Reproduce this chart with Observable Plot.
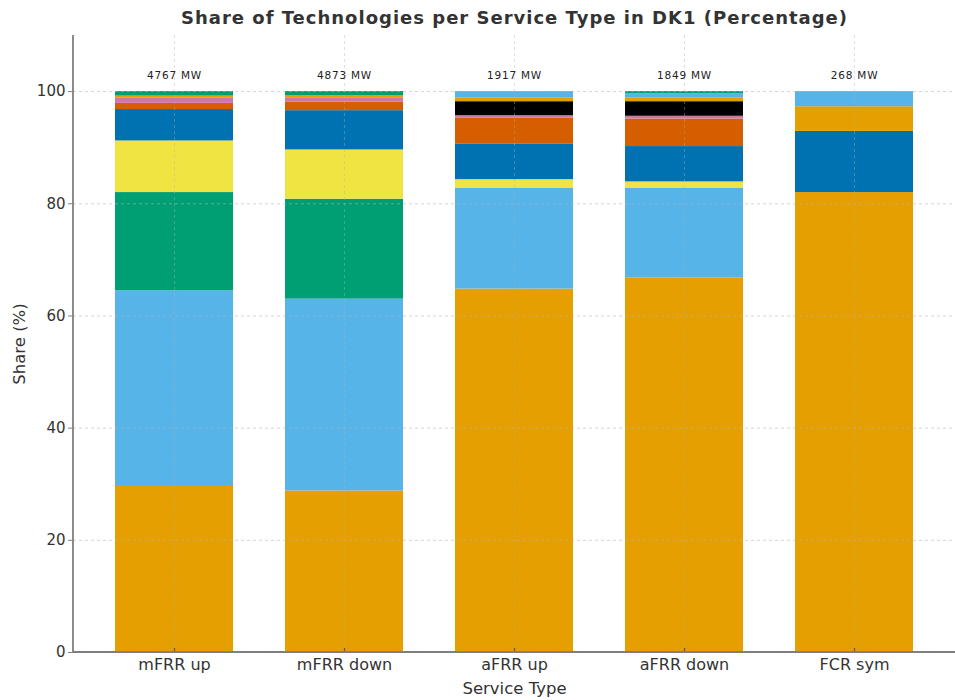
<!DOCTYPE html>
<html>
<head>
<meta charset="utf-8">
<script src="https://cdn.jsdelivr.net/npm/d3@7"></script>
<script src="https://cdn.jsdelivr.net/npm/@observablehq/plot@0.6"></script>
<style>
  body { margin: 0; background: #fff; }
  svg { font-family: "DejaVu Sans", sans-serif; }
  .title text { letter-spacing: 1px; }
  .mw text { letter-spacing: 0.8px; }
</style>
</head>
<body>
<div id="chart"></div>
<script>
// Service types and total capacity labels
const services = ["mFRR up", "mFRR down", "aFRR up", "aFRR down", "FCR sym"];
const totalMW = [4767, 4873, 1917, 1849, 268];

// Technologies (stack order, bottom to top) and their colours
const techs = ["Tech 1", "Tech 2", "Tech 3", "Tech 4", "Tech 5", "Tech 6", "Tech 7", "Tech 8", "Tech 9", "Tech 10", "Tech 11"];
const techColors = ["#E69F00", "#56B4E9", "#009E73", "#F0E442", "#0072B2", "#D55E00", "#CC79A7", "#000000", "#E69F00", "#56B4E9", "#009E73"];

// Share (%) of each technology per service type (same order as services)
const tech1 = [29.6, 28.8, 64.8, 66.8, 82.0];
const tech2 = [34.9, 34.2, 18.0, 16.0, 0];
const tech3 = [17.5, 17.8, 0, 0, 0];
const tech4 = [9.2, 8.8, 1.5, 1.1, 0];
const tech5 = [5.6, 7.0, 6.3, 6.3, 10.9];
const tech6 = [1.1, 1.5, 4.7, 4.9, 0];
const tech7 = [0.9, 0.8, 0.4, 0.5, 0];
const tech8 = [0, 0, 2.5, 2.6, 0];
const tech9 = [0.4, 0.4, 0.7, 0.7, 4.4];
const tech10 = [0, 0, 1.1, 0.7, 2.7];
const tech11 = [0.8, 0.7, 0, 0.4, 0];

const yTicks = [0, 20, 40, 60, 80, 100];

const shares = [tech1, tech2, tech3, tech4, tech5, tech6, tech7, tech8, tech9, tech10, tech11];
const rows = [];
techs.forEach((t, ti) => {
  services.forEach((s, si) => {
    if (shares[ti][si] > 0) rows.push({service: s, tech: t, order: ti, share: shares[ti][si]});
  });
});
const labels = services.map((s, i) => ({service: s, label: `${totalMW[i]} MW`}));

const W = 955, H = 700, mL = 73, mR = 0, mT = 35, mB = 48;

const spines = (index, scales, values, dims) => {
  const g = d3.create("svg:g").attr("stroke", "#7f7f7f").attr("stroke-width", 1.8);
  g.append("line").attr("x1", dims.marginLeft).attr("x2", dims.marginLeft)
    .attr("y1", dims.marginTop).attr("y2", dims.height - dims.marginBottom);
  g.append("line").attr("x1", dims.marginLeft).attr("x2", dims.width - dims.marginRight)
    .attr("y1", dims.height - dims.marginBottom).attr("y2", dims.height - dims.marginBottom);
  return g.node();
};

const chart = Plot.plot({
  width: W, height: H,
  marginLeft: mL, marginRight: mR, marginTop: mT, marginBottom: mB,
  style: {fontFamily: "DejaVu Sans, sans-serif", color: "#333", background: "#fff"},
  x: {domain: services, paddingInner: 0.306, paddingOuter: 0.247, label: null},
  y: {domain: [0, 110], label: null},
  color: {domain: techs, range: techColors},
  marks: [
    Plot.barY(rows, Plot.stackY({
      x: "service", y: "share", z: "tech", fill: "tech", order: "order"
    })),
    Plot.gridY(yTicks, {stroke: "#b0b0b0", strokeOpacity: 0.55, strokeDasharray: "3,3", strokeWidth: 1}),
    Plot.gridX(services, {stroke: "#b0b0b0", strokeOpacity: 0.4, strokeDasharray: "3,3", strokeWidth: 1}),
    Plot.axisY(yTicks, {
      tickSize: 5, tickPadding: 3, fontSize: 15, stroke: "#7f7f7f"
    }),
    Plot.text(["Share (%)"], {frameAnchor: "left", dx: -54, rotate: -90, textAnchor: "middle", lineAnchor: "middle", fontSize: 16.5, fill: "#333"}),
    Plot.axisX({
      tickSize: 0, tickPadding: 6, fontSize: 16, label: null
    }),
    Plot.text(["Service Type"], {frameAnchor: "bottom", dy: 36, lineAnchor: "middle", fontSize: 16.5, fill: "#333"}),
    Plot.ruleX(services, {x: d => d, y1: 0, y2: 0.7, stroke: "#555", strokeWidth: 1.2}),
    Plot.text(labels, {x: "service", y: 100, dy: -16, text: "label", fontSize: 10.5, fill: "#222", className: "mw"}),
    Plot.text(["Share of Technologies per Service Type in DK1 (Percentage)"], {
      frameAnchor: "top", dy: -17, lineAnchor: "middle", fontSize: 18, fontWeight: "bold", fill: "#333", className: "title"
    }),
    spines
  ]
});
document.getElementById("chart").appendChild(chart);
</script>
</body>
</html>
